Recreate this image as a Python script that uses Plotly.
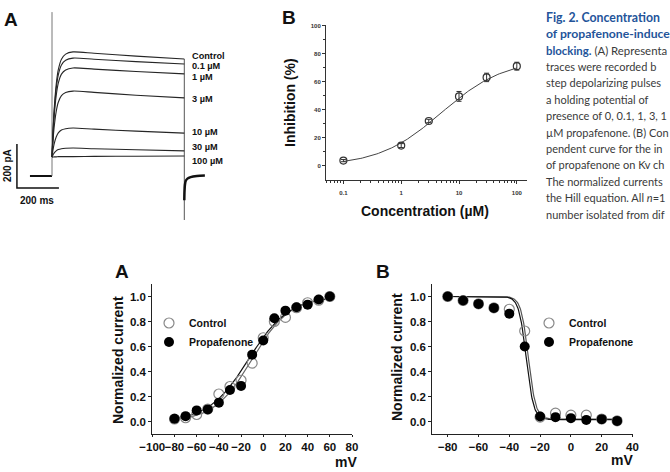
import numpy as np
import plotly.graph_objects as go

W, H = 670, 472


def px(x):
    return x / W


def py(y):
    return 1 - y / H


# ---------------- DATA ----------------
# Panel A (top): representative Kv current traces, current (pA) vs time (ms)
TIME_MS = [0, 5, 10, 20, 30, 45, 65, 100, 200, 400, 630]
TRACE_NAMES = ["Control", "0.1 µM", "1 µM", "3 µM", "10 µM", "30 µM", "100 µM"]
I_CONTROL = [86, 208, 299, 416, 483, 531, 554, 564, 558, 545, 532]
I_0_1UM = [86, 201, 286, 397, 460, 505, 526, 536, 531, 520, 509]
I_1UM = [86, 189, 266, 365, 422, 463, 482, 491, 486, 475, 464]
I_3UM = [86, 163, 220, 293, 335, 365, 379, 386, 380, 367, 355]
I_10UM = [86, 120, 145, 177, 196, 209, 215, 218, 213, 204, 195]
I_30UM = [86, 96, 104, 114, 120, 124, 126, 127, 124, 119, 114]
I_100UM = [86, 86, 87, 87, 88, 88, 88, 88, 89, 90, 91]
TRACE_LABEL_I = [545, 500, 450, 350, 200, 132, 68]  # label anchor heights (pA)

HOLD_T, HOLD_I = [-105, 0], [0, 0]
CAP_T, CAP_I = [0, 0], [0, 745]
OFF_T, OFF_I = [630, 630], [532, -200]
TAIL_T = [630, 631, 633, 637, 645, 660, 690, 728]
TAIL_I = [-110, -70, -40, -22, -12, -5, 0, 2]
SCALE_PA, SCALE_MS = 200, 200
SCALE_T0, SCALE_I0 = -167, -55

# Panel B (top): concentration-response
CONC_UM = [0.1, 1, 3, 10, 30, 100]
INHIBITION = [3.8, 14.5, 32.0, 49.5, 63.0, 71.0]
INHIBITION_SEM = [0.8, 1.4, 1.2, 3.5, 3.0, 2.8]
HILL_TOP, HILL_IC50, HILL_N = 76.0, 5.0, 0.8

# Bottom A: activation curves
V_ACT = [-80, -70, -60, -50, -40, -30, -20, -10, 0, 10, 20, 30, 40, 50, 60]
ACT_CONTROL = [0.02, 0.03, 0.056, 0.10, 0.22, 0.28, 0.33, 0.467, 0.67, 0.80,
               0.833, 0.91, 0.95, 0.97, 1.0]
ACT_PROP = [0.022, 0.043, 0.089, 0.097, 0.151, 0.252, 0.285, 0.535, 0.648,
            0.826, 0.887, 0.914, 0.935, 0.976, 1.0]
ACT_VH_CONTROL, ACT_K_CONTROL = -10.0, 17.0
ACT_VH_PROP, ACT_K_PROP = -13.0, 18.0

# Bottom B: steady-state inactivation curves
V_INACT = [-80, -70, -60, -50, -40, -30, -20, -10, 0, 10, 20, 30]
INACT_CONTROL = [1.0, 0.968, 0.941, 0.909, 0.898, 0.724, 0.035, 0.067, 0.051,
                 0.051, 0.02, 0.005]
INACT_PROP = [1.0, 0.968, 0.941, 0.909, 0.863, 0.60, 0.04, 0.035, 0.027, 0.013,
              0.019, 0.005]
INACT_VH_CONTROL, INACT_K_CONTROL, INACT_MIN_CONTROL = -27.6, 2.4, 0.02
INACT_VH_PROP, INACT_K_PROP, INACT_MIN_PROP = -29.0, 2.4, 0.015

# Caption, as far as it is visible in the source (cut by the page edge)
CAPTION_LINES = [
    '<b>Fig. 2. Concentration</b>',
    '<b>of propafenone-induce</b>',
    '<b>blocking.</b><span style="color:#3a3a3a"> (A) Representa</span>',
    'traces were recorded b',
    'step depolarizing pulses',
    'a holding potential of',
    'presence of 0, 0.1, 1, 3, 1',
    'µM propafenone. (B) Con',
    'pendent curve for the in',
    'of propafenone on Kv ch',
    'The normalized currents',
    'the Hill equation. All <i>n</i>=1',
    'number isolated from dif',
]
CAPTION_SIZES = [12.3, 12.2, 11.4] + [11.0] * 10

# ---------------- FIGURE ----------------
fig = go.Figure()
ARIAL = "Liberation Sans"
TRACE_COLOR = "#262626"

# --- top A traces
fig.add_trace(go.Scatter(x=HOLD_T, y=HOLD_I, mode="lines",
                         line=dict(color="#111", width=2), xaxis="x", yaxis="y",
                         showlegend=False, hoverinfo="skip"))
fig.add_trace(go.Scatter(x=CAP_T, y=CAP_I, mode="lines",
                         line=dict(color="#777", width=1), xaxis="x", yaxis="y",
                         showlegend=False, hoverinfo="skip"))
fig.add_trace(go.Scatter(x=OFF_T, y=OFF_I, mode="lines",
                         line=dict(color="#555", width=1), xaxis="x", yaxis="y",
                         showlegend=False, hoverinfo="skip"))
for name, cur in zip(TRACE_NAMES, [I_CONTROL, I_0_1UM, I_1UM, I_3UM, I_10UM,
                                   I_30UM, I_100UM]):
    fig.add_trace(go.Scatter(x=TIME_MS, y=cur, mode="lines", name=name,
                             line=dict(color=TRACE_COLOR, width=1.1,
                                       shape="spline", smoothing=0.7),
                             xaxis="x", yaxis="y", showlegend=False))
fig.add_trace(go.Scatter(x=TAIL_T, y=TAIL_I, mode="lines",
                         line=dict(color="#111", width=2.5, shape="spline",
                                   smoothing=0.8),
                         xaxis="x", yaxis="y", showlegend=False,
                         hoverinfo="skip"))
# scale bar
fig.add_trace(go.Scatter(
    x=[SCALE_T0, SCALE_T0, SCALE_T0 + SCALE_MS],
    y=[SCALE_I0 + SCALE_PA, SCALE_I0, SCALE_I0],
    mode="lines", line=dict(color="#111", width=1.5), xaxis="x", yaxis="y",
    showlegend=False, hoverinfo="skip"))

# --- top B concentration response
conc_fit = np.logspace(np.log10(CONC_UM[0]), np.log10(CONC_UM[-1]), 120)
hill_fit = HILL_TOP / (1 + (HILL_IC50 / conc_fit) ** HILL_N)
fig.add_trace(go.Scatter(x=conc_fit, y=hill_fit, mode="lines",
                         line=dict(color="#444", width=1),
                         xaxis="x2", yaxis="y2", showlegend=False))
fig.add_trace(go.Scatter(x=CONC_UM, y=INHIBITION, mode="markers",
                         marker=dict(symbol="circle-open", size=7,
                                     color="#333", line=dict(width=1.2)),
                         error_y=dict(type="data", array=INHIBITION_SEM,
                                      color="#333", thickness=1, width=2.5),
                         xaxis="x2", yaxis="y2", showlegend=False))

# --- bottom A activation
v_act_fit = np.linspace(V_ACT[0], V_ACT[-1], 200)
fig.add_trace(go.Scatter(
    x=v_act_fit, y=1 / (1 + np.exp((ACT_VH_CONTROL - v_act_fit) / ACT_K_CONTROL)),
    mode="lines", line=dict(color="#666", width=1.2), xaxis="x3", yaxis="y3",
    showlegend=False))
fig.add_trace(go.Scatter(
    x=v_act_fit, y=1 / (1 + np.exp((ACT_VH_PROP - v_act_fit) / ACT_K_PROP)),
    mode="lines", line=dict(color="#111", width=1.2), xaxis="x3", yaxis="y3",
    showlegend=False))
fig.add_trace(go.Scatter(x=V_ACT, y=ACT_CONTROL, mode="markers", name="Control",
                         marker=dict(symbol="circle-open", size=10, color="#888",
                                     line=dict(width=1.2)),
                         xaxis="x3", yaxis="y3", legend="legend"))
fig.add_trace(go.Scatter(x=V_ACT, y=ACT_PROP, mode="markers", name="Propafenone",
                         marker=dict(symbol="circle", size=10, color="#000"),
                         xaxis="x3", yaxis="y3", legend="legend"))

# --- bottom B inactivation
v_in_fit = np.linspace(V_INACT[0], V_INACT[-1], 300)
fig.add_trace(go.Scatter(
    x=v_in_fit,
    y=INACT_MIN_CONTROL + (1 - INACT_MIN_CONTROL) /
    (1 + np.exp((v_in_fit - INACT_VH_CONTROL) / INACT_K_CONTROL)),
    mode="lines", line=dict(color="#555", width=1.2), xaxis="x4", yaxis="y4",
    showlegend=False))
fig.add_trace(go.Scatter(
    x=v_in_fit,
    y=INACT_MIN_PROP + (1 - INACT_MIN_PROP) /
    (1 + np.exp((v_in_fit - INACT_VH_PROP) / INACT_K_PROP)),
    mode="lines", line=dict(color="#111", width=1.2), xaxis="x4", yaxis="y4",
    showlegend=False))
fig.add_trace(go.Scatter(x=V_INACT, y=INACT_CONTROL, mode="markers",
                         name="Control",
                         marker=dict(symbol="circle-open", size=10, color="#888",
                                     line=dict(width=1.2)),
                         xaxis="x4", yaxis="y4", legend="legend2"))
fig.add_trace(go.Scatter(x=V_INACT, y=INACT_PROP, mode="markers",
                         name="Propafenone",
                         marker=dict(symbol="circle", size=10, color="#000"),
                         xaxis="x4", yaxis="y4", legend="legend2"))

# ---------------- AXES ----------------
hidden = dict(visible=False, showgrid=False, zeroline=False, fixedrange=True)
small_tick_font = dict(family=ARIAL, size=6, color="#333", weight="bold")
big_tick_font = dict(family=ARIAL, size=11.5, color="#111", weight="bold")

minor_log = [m * 10 ** e for e in (-2, -1, 0, 1) for m in range(2, 10)]
minor_log = [v for v in minor_log if 0.05 <= v <= 150]

bottom_common = dict(showline=True, linecolor="#222", linewidth=1.2,
                     tickcolor="#222", tickfont=big_tick_font, showgrid=False,
                     zeroline=False, fixedrange=True, tickangle=0,
                     automargin=False)

fig.update_layout(
    template="none",
    width=W, height=H, margin=dict(l=0, r=0, t=0, b=0, pad=0),
    paper_bgcolor="white", plot_bgcolor="white",
    xaxis=dict(domain=[0, px(230)], range=[-247.6, 847.6], anchor="y", **hidden),
    yaxis=dict(domain=[py(230), 1], range=[-245.5, 800], anchor="x", **hidden),
    xaxis2=dict(domain=[px(326), px(527)], type="log",
                range=[np.log10(0.05), np.log10(150)], anchor="y2",
                showline=True, linecolor="#333", linewidth=1,
                ticks="outside", ticklen=3, tickcolor="#333",
                tickvals=[0.1, 1, 10, 100], ticktext=["0.1", "1", "10", "100"],
                tickfont=small_tick_font, showgrid=False, zeroline=False,
                ticklabelstandoff=4, automargin=False,
                minor=dict(tickvals=minor_log, ticks="outside", ticklen=2,
                           tickcolor="#333", showgrid=False),
                fixedrange=True),
    yaxis2=dict(domain=[py(180), py(25)], range=[-10, 100.3], anchor="x2",
                showline=True, linecolor="#333", linewidth=1,
                ticks="outside", ticklen=3, tickcolor="#333",
                tickvals=[0, 20, 40, 60, 80, 100], tickfont=small_tick_font,
                showgrid=False, zeroline=False, automargin=False,
                minor=dict(tickvals=[10, 30, 50, 70, 90], ticks="outside",
                           ticklen=2, tickcolor="#333", showgrid=False),
                fixedrange=True),
    xaxis3=dict(domain=[px(152.3), px(352)], range=[-100, 80], anchor="y3",
                tickvals=list(range(-100, 81, 20)), ticks="outside", ticklen=2,
                **bottom_common),
    yaxis3=dict(domain=[py(434), py(284)], range=[-0.1, 1.1], anchor="x3",
                tickvals=[0, 0.2, 0.4, 0.6, 0.8, 1.0], tickformat=".1f",
                ticks="outside", ticklen=3, **bottom_common),
    xaxis4=dict(domain=[px(432.3), px(632.5)], range=[-90, 40], anchor="y4",
                tickvals=list(range(-80, 41, 20)), ticks="outside", ticklen=2,
                **bottom_common),
    yaxis4=dict(domain=[py(434), py(284)], range=[-0.1, 1.1], anchor="x4",
                tickvals=[0, 0.2, 0.4, 0.6, 0.8, 1.0], tickformat=".1f",
                ticks="outside", ticklen=3, **bottom_common),
    legend=dict(x=px(149), y=py(308.5), xanchor="left", yanchor="top",
                bgcolor="rgba(0,0,0,0)", borderwidth=0,
                font=dict(family=ARIAL, size=10.5, color="#111", weight="bold"),
                tracegroupgap=0, itemclick=False, itemdoubleclick=False),
    legend2=dict(x=px(529), y=py(308.5), xanchor="left", yanchor="top",
                 bgcolor="rgba(0,0,0,0)", borderwidth=0,
                 font=dict(family=ARIAL, size=10.5, color="#111", weight="bold"),
                 tracegroupgap=0, itemclick=False, itemdoubleclick=False),
    showlegend=True,
)

# ---------------- TEXT ----------------
ann = []


def add_text(text, x, y, size, xanchor="center", yanchor="middle", angle=0,
             color="#111", family=ARIAL, xref="paper", yref="paper"):
    ann.append(dict(text=text, x=x, y=y, xref=xref, yref=yref,
                    xanchor=xanchor, yanchor=yanchor, textangle=angle,
                    showarrow=False, borderpad=0,
                    font=dict(family=family, size=size, color=color)))


# panel letters
add_text("<b>A</b>", px(10.5), py(19), 19)
add_text("<b>B</b>", px(289), py(17.5), 19)
add_text("<b>A</b>", px(122), py(271), 19)
add_text("<b>B</b>", px(383), py(271), 19)

# trace labels (top A)
for name, yv in zip(TRACE_NAMES, TRACE_LABEL_I):
    add_text("<b>%s</b>" % name, 660, yv, 9.2, xanchor="left", xref="x",
             yref="y")
# scale bar labels
add_text("<b>200 pA</b>", px(8), py(166), 10, angle=-90)
add_text("<b>200 ms</b>", px(37), py(200), 10)

# top B axis titles
add_text("<b>Inhibition (%)</b>", px(290), py(103), 14, angle=-90)
add_text("<b>Concentration (µM)</b>", px(425), py(211), 14)

# bottom axis titles
add_text("<b>Normalized current</b>", px(118), py(360), 14, angle=-90)
add_text("<b>mV</b>", px(358), py(462), 14, xanchor="right")
add_text("<b>Normalized current</b>", px(397), py(357), 14, angle=-90)
add_text("<b>mV</b>", px(634), py(460), 14, xanchor="right")

# caption
BLUE = "#24549a"
for i, (line, size) in enumerate(zip(CAPTION_LINES, CAPTION_SIZES)):
    col = BLUE if i < 3 else "#3a3a3a"
    add_text(line, px(545), py(17.3 + 16.4 * i), size, xanchor="left",
             color=col, family="Lato")

fig.update_layout(annotations=ann)

fig.write_html(
    "out.html",
    post_script="document.body.style.margin='0';document.body.style.padding='0';",
)
